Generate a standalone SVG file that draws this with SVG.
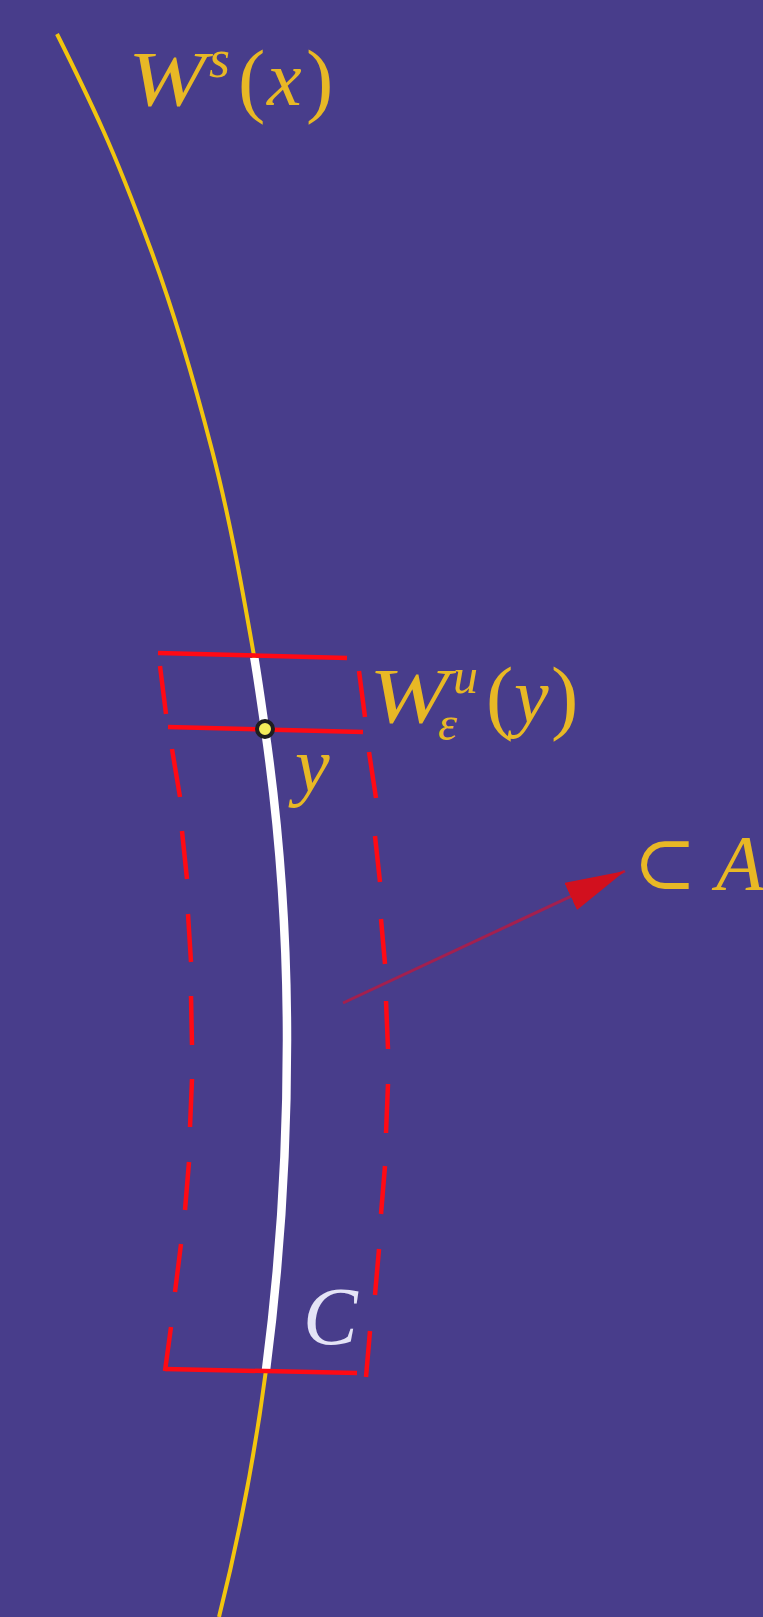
<svg xmlns="http://www.w3.org/2000/svg" width="763" height="1617" viewBox="0 0 763 1617">
<defs>
<style>
.t{font-family:"Liberation Serif","DejaVu Serif",serif;fill:#E8B825;}
.i{font-style:italic;}
.rl{stroke:#FF0A14;stroke-width:4.5;fill:none;stroke-linecap:butt;}
.crv{fill:none;}
</style>
<clipPath id="mid"><rect x="0" y="658" width="763" height="713"/></clipPath>
<marker id="ah" markerUnits="userSpaceOnUse" markerWidth="64" markerHeight="34" refX="60" refY="15" orient="auto">
<polygon points="0,0 60,15 0,30" fill="#D2101E"/>
</marker>
</defs>
<rect width="763" height="1617" fill="#483D8B"/>
<g id="manifold">
<path id="ws" class="crv" d="M57,34 C73,66 88.6,98 103,130 C121,170 136.2,210 151,250 C175.7,316.7 194.7,383.3 212,450 C229.3,516.7 241.3,583.3 253,650 C257.6,676.3 261.2,702.7 265,729 C280,832.7 287,936.3 287,1040 C287,1150 280.3,1260 266,1370 C255.3,1452.3 239.6,1534.7 219,1617" stroke="#F2C50E" stroke-width="4"/>
<path id="C-curve" class="crv" d="M57,34 C73,66 88.6,98 103,130 C121,170 136.2,210 151,250 C175.7,316.7 194.7,383.3 212,450 C229.3,516.7 241.3,583.3 253,650 C257.6,676.3 261.2,702.7 265,729 C280,832.7 287,936.3 287,1040 C287,1150 280.3,1260 266,1370 C255.3,1452.3 239.6,1534.7 219,1617" stroke="#FFFFFF" stroke-width="8.5" clip-path="url(#mid)"/>
</g>
<g id="box">
<line class="rl" x1="158" y1="653" x2="347" y2="658"/>
<line class="rl" x1="168" y1="727" x2="363" y2="732"/>
<line class="rl" x1="165" y1="1369" x2="357" y2="1373"/>
<g id="left-side">
<line class="rl" x1="160" y1="666" x2="166" y2="714"/>
<line class="rl" x1="172" y1="749" x2="180" y2="797"/>
<line class="rl" x1="182" y1="831" x2="187" y2="879"/>
<line class="rl" x1="188" y1="914" x2="191" y2="962"/>
<line class="rl" x1="191" y1="996" x2="192" y2="1045"/>
<line class="rl" x1="192" y1="1079" x2="190" y2="1127"/>
<line class="rl" x1="189" y1="1162" x2="185" y2="1210"/>
<line class="rl" x1="181" y1="1244" x2="175" y2="1292"/>
<line class="rl" x1="171" y1="1327" x2="165" y2="1371"/>
</g>
<g id="right-side">
<line class="rl" x1="359" y1="671" x2="365" y2="717"/>
<line class="rl" x1="369" y1="752" x2="376" y2="798"/>
<line class="rl" x1="375" y1="836" x2="380" y2="882"/>
<line class="rl" x1="381" y1="919" x2="385" y2="964"/>
<line class="rl" x1="386" y1="1001" x2="388" y2="1049"/>
<line class="rl" x1="388" y1="1084" x2="386" y2="1133"/>
<line class="rl" x1="385" y1="1166" x2="381" y2="1214"/>
<line class="rl" x1="379" y1="1249" x2="375" y2="1295"/>
<line class="rl" x1="370" y1="1331" x2="366" y2="1377"/>
</g>
</g>
<g id="point-y">
<circle cx="265" cy="729" r="8" fill="#F4EE5A" stroke="#1E1E1E" stroke-width="4"/>
</g>
<g id="connectors">
<line x1="343" y1="1003" x2="625" y2="871" stroke="#A3204F" stroke-width="3" marker-end="url(#ah)"/>
</g>
<g id="label-Ws">
<text class="t i" x="128" y="105" font-size="78" textLength="78" lengthAdjust="spacingAndGlyphs">W</text>
<text class="t i" x="209" y="77" font-size="54">s</text>
<text class="t" x="238" y="107" font-size="82">(</text>
<text class="t i" x="267" y="105" font-size="78">x</text>
<text class="t" x="306" y="107" font-size="82">)</text>
</g>
<g id="label-Wu">
<text class="t i" x="369" y="722" font-size="78" textLength="80" lengthAdjust="spacingAndGlyphs">W</text>
<text class="t i" x="453" y="693" font-size="50">u</text>
<text class="t i" x="438" y="740" font-size="48">ε</text>
<text class="t" x="486" y="724" font-size="82">(</text>
<text class="t i" x="514" y="722" font-size="78">y</text>
<text class="t" x="551" y="724" font-size="82">)</text>
</g>
<g id="label-y">
<text class="t i" x="295" y="791" font-size="78">y</text>
</g>
<g id="label-C">
<text class="t i" x="303" y="1344" font-size="82" style="fill:#E4E4F6">C</text>
</g>
<g id="label-subset-A">
<text class="t" x="633" y="889" font-size="76">⊂</text>
<text class="t i" x="716" y="889" font-size="78">A</text>
</g>
</svg>
